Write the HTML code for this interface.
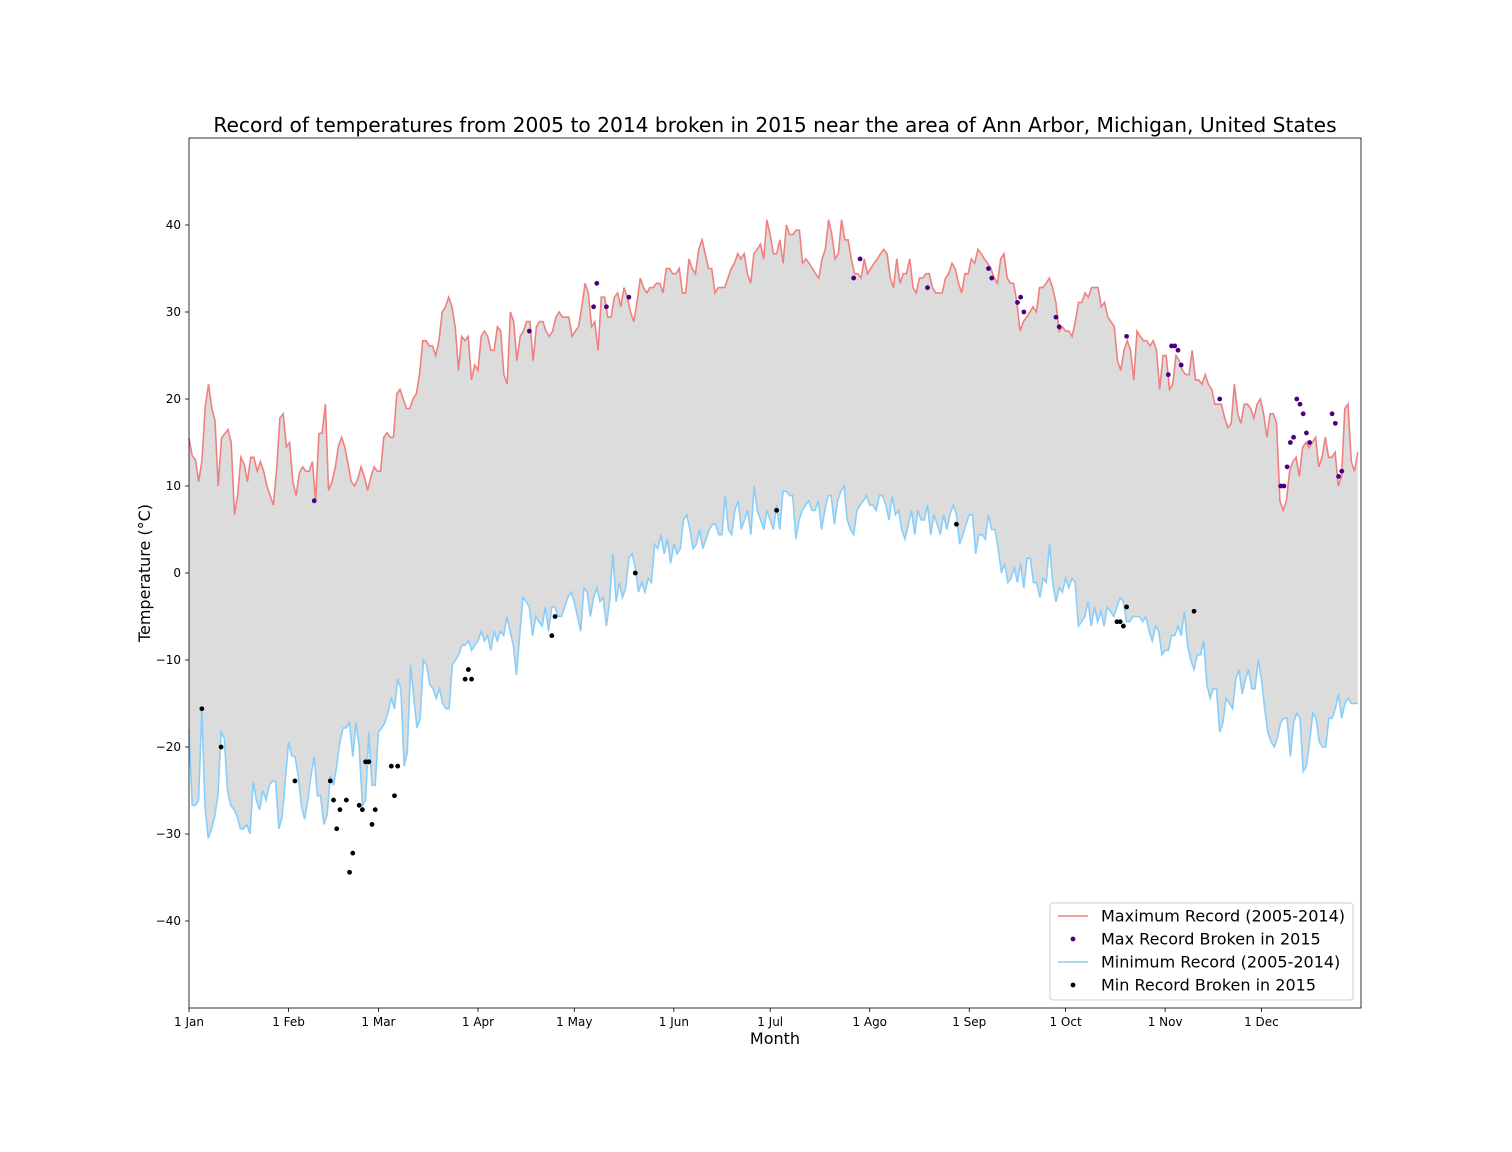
<!DOCTYPE html>
<html><head><meta charset="utf-8"><style>
body{margin:0;background:#fff;}
svg{display:block;font-family:"DejaVu Sans","Liberation Sans",sans-serif;}
</style></head><body>
<svg id="chart" width="1512" height="1152" viewBox="0 0 1512 1152" xmlns="http://www.w3.org/2000/svg">
<rect x="0" y="0" width="1512" height="1152" fill="#fff"/>
<text x="775" y="132" text-anchor="middle" font-size="20.2">Record of temperatures from 2005 to 2014 broken in 2015 near the area of Ann Arbor, Michigan, United States</text>
<g id="plot"></g>
<text x="775" y="1044" text-anchor="middle" font-size="16">Month</text>
<text transform="translate(150,573) rotate(-90)" text-anchor="middle" font-size="16">Temperature (°C)</text>
</svg>
<script>
const maxRecord=[15.5,13.5,13,10.5,13,19,21.7,19,17.5,10,15.5,16,16.5,15,6.7,9,13.3,12.5,10.5,13.3,13.3,11.7,12.8,11.7,10,8.9,7.8,12,17.8,18.3,14.5,15,10.5,8.9,11.5,12.2,11.7,11.7,12.8,8.3,16,16.1,19.4,9.5,10.5,12,14.5,15.6,14.5,12.5,10.5,10,10.8,12.2,11.1,9.5,11,12.2,11.7,11.7,15.6,16.1,15.6,15.6,20.6,21.1,20,18.9,18.9,20,20.6,22.8,26.7,26.7,26.1,26.1,25,26.7,30,30.6,31.7,30.6,28.3,23.3,27.2,26.7,27.2,22.2,23.9,23.3,27.2,27.8,27.2,25.6,25.6,28.3,27.8,22.8,21.7,30,28.9,24.4,27.2,27.8,28.9,28.9,24.4,28.3,28.9,28.9,27.8,27.2,27.8,29.4,30,29.4,29.4,29.4,27.2,27.8,28.3,30.6,33.3,32.2,28.3,28.9,25.6,31.7,31.7,29.4,29.4,31.7,32.2,30.6,32.8,31.7,30,28.9,31.1,33.9,32.8,32.2,32.8,32.8,33.3,33.3,32.2,35,35,34.4,34.4,35,32.2,32.2,36.1,35,34.4,37.2,38.3,36.7,35,35,32.2,32.8,32.8,32.8,33.9,35,35.6,36.7,36.1,36.7,34.4,33.3,36.7,37.2,37.8,36.1,40.6,38.9,36.7,36.7,38.3,35.6,40,38.9,38.9,39.4,39.4,35.6,36.1,35.6,35,34.4,33.9,36.1,37.2,40.6,38.9,36.1,36.7,40.6,38.3,38.3,36.1,34.4,34.4,33.9,36.1,34.4,35,35.6,36.1,36.7,37.2,36.7,33.9,32.8,36.1,33.3,34.4,34.4,36.1,32.8,32.2,33.9,33.9,34.4,34.4,32.8,32.2,32.2,32.2,33.9,34.4,35.6,35,33.3,32.2,34.4,34.4,36.1,35.6,37.2,36.7,36.1,35.6,35,33.9,33.3,36.1,36.7,33.9,33.3,33.3,31.1,27.8,28.9,29.4,30,30.6,30,32.8,32.8,33.3,33.9,32.8,31.1,27.8,28.3,27.8,27.8,27.2,28.9,31.1,31.1,32.2,31.7,32.8,32.8,32.8,30.6,31.1,29.4,28.9,28.3,24.4,23.3,25.6,26.7,25.6,22.2,27.8,27.2,26.7,26.7,26.1,26.7,25.6,21.1,25,25,21.1,21.7,25,24.4,23.3,22.8,22.8,25.6,22.2,22.2,21.7,22.8,21.7,21.1,19.4,19.4,19.4,17.8,16.7,17.2,21.7,18.3,17.2,19.4,19.4,18.9,17.8,19.4,20,18.3,15.6,18.3,18.3,17.2,8.3,7.2,8.3,11.7,12.8,13.3,11.1,14.4,15,14.4,15,15.6,12.2,13.3,15.6,13.3,13.3,13.9,10,11.1,18.9,19.4,12.8,11.7,13.9];
const minRecord=[-18,-26.7,-26.7,-26.1,-15.6,-27,-30.5,-29.4,-28,-25.6,-18.3,-19,-25,-26.7,-27.2,-28,-29.4,-29.4,-28.9,-30,-24,-26.1,-27.2,-25,-26.1,-24.4,-23.9,-24,-29.4,-28,-23.9,-19.4,-21,-21.1,-23.3,-26.7,-28.3,-26.1,-23.3,-21.1,-25.6,-25.6,-28.9,-27.8,-23.3,-24.4,-22.2,-19.4,-17.8,-17.8,-17.2,-21.1,-17.2,-20,-26.7,-26.1,-18.3,-24.4,-24.4,-18.3,-17.8,-17.2,-16,-14.4,-15.6,-12.2,-13.3,-22.2,-20.6,-10.6,-14.4,-17.8,-16.7,-10,-10.6,-12.8,-13.3,-14.4,-13.3,-15,-15.6,-15.6,-10.6,-10,-9.4,-8.3,-8.3,-7.8,-8.9,-8.3,-7.8,-6.7,-7.8,-7.2,-8.9,-6.7,-7.8,-6.7,-7.2,-5,-6.7,-8.3,-11.7,-7.2,-2.8,-3.3,-3.9,-7.2,-5,-5.6,-6.1,-3.9,-6.7,-3.9,-3.9,-5,-5,-3.9,-2.8,-2.2,-3.3,-5,-6.7,-1.7,-2.2,-5,-2.8,-1.7,-3.3,-2.8,-6.1,-3.3,2.2,-3.3,-1.1,-2.8,-1.7,1.7,2.2,0.6,-2.2,-1.1,-2.2,-0.6,-1.1,3.3,2.8,4.4,2.2,3.9,1.1,3.3,2.2,2.8,6.1,6.7,5,2.8,3.3,5,2.8,3.9,5,5.6,5.6,4.4,4.4,8.9,5,4.4,7.2,8.3,5,6.1,7.2,4.4,10,7.2,6.1,5,7.2,6.1,5,7.8,5,9.4,9.4,8.9,8.9,3.9,6.1,7.2,7.8,8.3,7.2,7.2,8.3,5,7.2,8.9,8.9,5.6,8.3,9.4,10,6.1,5,4.4,7.2,7.8,8.3,8.9,7.8,7.8,7.2,8.9,8.9,7.8,6.1,8.9,6.7,7.2,5,3.9,5.6,7.2,4.4,7.2,6.1,6.1,7.8,4.4,6.7,5.6,4.4,6.7,5,6.7,7.8,6.7,3.3,4.4,5.6,6.7,6.7,2.2,4.4,4.4,3.9,6.7,5,5,2.8,0,1.1,-1.1,-0.6,0.6,-1.1,1.1,-1.7,1.7,1.7,-1.1,-1.1,-2.8,-0.6,-1.1,3.3,-1.1,-3.3,-1.7,-2.2,-0.6,-1.7,-0.6,-1.1,-6.1,-5.6,-5,-3.3,-6.1,-3.9,-5.6,-4.4,-6.1,-3.9,-4.4,-5,-3.9,-2.8,-3.3,-5.6,-5.6,-5,-5,-5,-5.6,-5,-6.7,-7.8,-6.1,-6.7,-9.4,-8.9,-8.9,-7.2,-7.2,-6.1,-7.2,-4.4,-8.3,-10,-11.1,-9.4,-9.4,-7.8,-12.8,-14.4,-13.3,-13.3,-18.3,-17.2,-14.4,-15,-15.6,-12.2,-11.1,-13.9,-12.2,-11.1,-13.3,-13.3,-10,-12.2,-15.6,-18.3,-19.4,-20,-18.9,-17.2,-16.7,-16.7,-21.1,-17.2,-16.1,-16.7,-22.8,-22.2,-19.4,-16.1,-16.7,-19.4,-20,-20,-16.7,-16.7,-15.6,-13.9,-16.7,-15,-14.4,-15,-15,-15];
const maxBrokenDays=[39,106,126,127,130,137,207,209,230,249,250,258,259,260,270,271,292,305,306,307,308,309,321,340,341,342,343,344,345,346,347,348,349,356,357,358,359];
const maxBrokenVals=[8.3,27.8,30.6,33.3,30.6,31.7,33.9,36.1,32.8,35,33.9,31.1,31.7,30,29.4,28.3,27.2,22.8,26.1,26.1,25.6,23.9,20,10,10,12.2,15,15.6,20,19.4,18.3,16.1,15,18.3,17.2,11.1,11.7];
const minBrokenDays=[4,10,33,44,45,46,47,49,50,51,53,54,55,56,57,58,63,64,65,86,87,88,113,114,139,183,239,289,290,291,292,313];
const minBrokenVals=[-15.6,-20,-23.9,-23.9,-26.1,-29.4,-27.2,-26.1,-34.4,-32.2,-26.7,-27.2,-21.7,-21.7,-28.9,-27.2,-22.2,-25.6,-22.2,-12.2,-11.1,-12.2,-7.2,-5,0,7.2,5.6,-5.6,-5.6,-6.1,-3.9,-4.4];
const monthLabels=["1 Jan","1 Feb","1 Mar","1 Apr","1 May","1 Jun","1 Jul","1 Ago","1 Sep","1 Oct","1 Nov","1 Dec"];
const monthDays=[0,31,59,90,120,151,181,212,243,273,304,334];
const yTicks=[-40,-30,-20,-10,0,10,20,30,40];

const L=189,R=1361,T=138,B=1008;
const xs=d=>L+(d/365)*(R-L);
const ys=v=>T+(50-v)/100*(B-T);
const NS='http://www.w3.org/2000/svg';
const g=document.getElementById('plot');
function mk(tag,attrs){const e=document.createElementNS(NS,tag);for(const k in attrs)e.setAttribute(k,attrs[k]);return e;}
function dayOf(i,n){return i*364/(n-1);}
const maxPts=maxRecord.map((v,i)=>[xs(dayOf(i,maxRecord.length)),ys(v)]);
const minPts=minRecord.map((v,i)=>[xs(dayOf(i,minRecord.length)),ys(v)]);
const toStr=p=>p.map(q=>q[0].toFixed(1)+','+q[1].toFixed(1)).join(' ');
const fill=mk('polygon',{points:toStr(maxPts)+' '+toStr(minPts.slice().reverse()),fill:'#dcdcdc'});


g.appendChild(fill);
const maxLine=mk('polyline',{points:toStr(maxPts),fill:'none',stroke:'#f08080','stroke-width':1.6});


g.appendChild(maxLine);
const minLine=mk('polyline',{points:toStr(minPts),fill:'none',stroke:'#87cefa','stroke-width':1.6});


g.appendChild(minLine);
maxBrokenDays.forEach((d,i)=>{const c=mk('circle',{cx:xs(d),cy:ys(maxBrokenVals[i]),r:2.4,fill:'#4b0082'});


g.appendChild(c);});
minBrokenDays.forEach((d,i)=>{const c=mk('circle',{cx:xs(d),cy:ys(minBrokenVals[i]),r:2.4,fill:'#000'});


g.appendChild(c);});
const frame=mk('rect',{x:L,y:T,width:R-L,height:B-T,fill:'none',stroke:'#000','stroke-width':0.8});


g.appendChild(frame);
monthDays.forEach((d,i)=>{const x=xs(d);
const t=mk('line',{x1:x,x2:x,y1:B,y2:B+4,stroke:'#000','stroke-width':0.8});


g.appendChild(t);
const tx=mk('text',{x:x,y:B+18,'text-anchor':'middle','font-size':12});tx.textContent=monthLabels[i];


g.appendChild(tx);});
yTicks.forEach(v=>{const y=ys(v);
const t=mk('line',{x1:L-4,x2:L,y1:y,y2:y,stroke:'#000','stroke-width':0.8});


g.appendChild(t);
const tx=mk('text',{x:L-8,y:y+4,'text-anchor':'end','font-size':12});tx.textContent=(v<0?'\u2212':'')+Math.abs(v);


g.appendChild(tx);});
const lg=mk('g',{});


lg.appendChild(mk('rect',{x:1050,y:903,width:303,height:97,rx:3,fill:'#fff','fill-opacity':0.8,stroke:'#ccc'}));
const items=[['line','#f08080','Maximum Record (2005-2014)'],['dot','#4b0082','Max Record Broken in 2015'],['line','#87cefa','Minimum Record (2005-2014)'],['dot','#000','Min Record Broken in 2015']];
items.forEach((it,i)=>{const y=916+i*23;
const e=mk('g',{});


if(it[0]==='line')e.appendChild(mk('line',{x1:1058,x2:1088,y1:y,y2:y,stroke:it[1],'stroke-width':1.6}));
else e.appendChild(mk('circle',{cx:1073,cy:y,r:2.4,fill:it[1]}));
const tx=mk('text',{x:1101,y:y+5.5,'font-size':16});tx.textContent=it[2];e.appendChild(tx);
lg.appendChild(e);});
g.appendChild(lg);
</script>
</body></html>
